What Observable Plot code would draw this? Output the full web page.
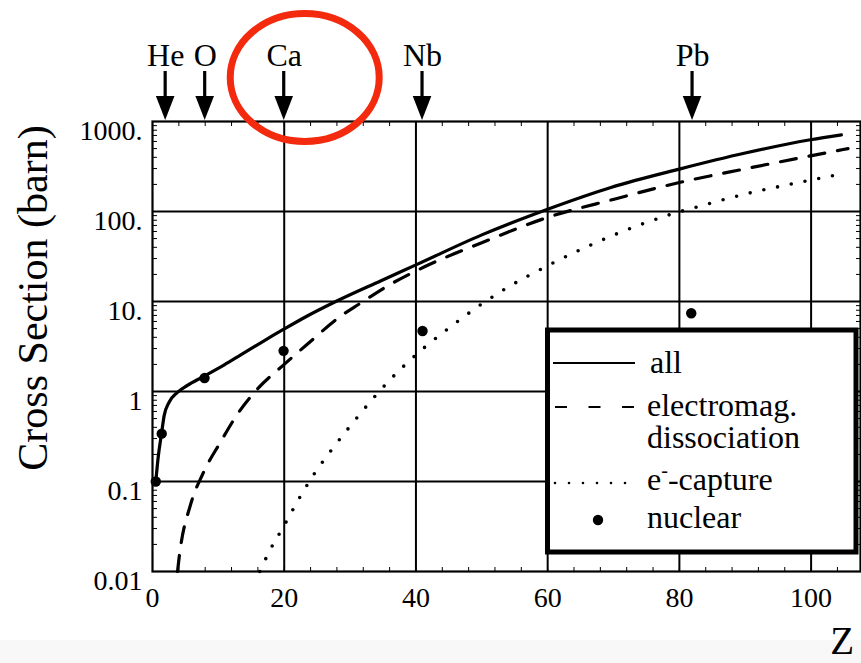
<!DOCTYPE html>
<html>
<head>
<meta charset="utf-8">
<script src="https://cdn.jsdelivr.net/npm/d3@7"></script>
<script src="https://cdn.jsdelivr.net/npm/@observablehq/plot@0.6"></script>
<style>
html, body { margin: 0; padding: 0; }
body {
  width: 861px; height: 663px; overflow: hidden;
  background: linear-gradient(to bottom, #ffffff 0px, #ffffff 640px, #f8f8f8 640px, #f8f8f8 663px);
}
#chart { width: 861px; height: 663px; }
#chart svg { display: block; }
#chart svg text { font-family: "Liberation Serif", "Times New Roman", "Tinos", "DejaVu Serif", serif; }
</style>
</head>
<body>
<div id="chart"></div>
<script>
// ---- data ----
const allZ     = [0.5, 0.86, 1.37, 1.77, 2.5, 3.8, 5.3, 7.6, 10.9, 13.4, 16.5, 20, 23.5, 27.6, 34.7, 40, 50, 60, 69.6, 80, 90, 99.9, 104.6];
const allSigma = [0.1, 0.185, 0.34, 0.54, 0.755, 0.98, 1.17, 1.45, 1.98, 2.55, 3.5, 4.95, 6.9, 9.8, 17, 25.5, 55, 106, 185, 296, 446, 627, 710];

const emZ     = [3.8, 4.05, 5.8, 7.6, 10.4, 12.9, 15.7, 20, 23.5, 28.6, 31.4, 35.7, 41.3, 50, 60, 70.1, 80, 90, 99.9, 105.6];
const emSigma = [0.01, 0.0144, 0.056, 0.12, 0.28, 0.56, 1.02, 2.0, 3.35, 6.9, 9.4, 14.9, 24.3, 45, 86, 137, 210, 298, 415, 500];

const ecZ     = [16.3, 16.7, 17.7, 20, 22, 24.5, 27.3, 30.1, 33.2, 35.9, 41, 44.6, 50.1, 53.9, 60, 66.1, 70.1, 78.7, 83, 89.8, 98.7, 105.3];
const ecSigma = [0.01, 0.0116, 0.0165, 0.0325, 0.06, 0.12, 0.23, 0.42, 0.79, 1.31, 2.96, 4.8, 9.5, 14.3, 25, 41, 55, 93, 114, 155, 214, 267];

const nucZ     = [0.5, 1.4, 7.9, 19.9, 41, 81.8];
const nucSigma = [0.1, 0.34, 1.41, 2.83, 4.7, 7.4];

const elements  = ["He", "O", "Ca", "Nb", "Pb"];
const elementZ  = [2, 8, 20, 41, 82];

const xTickValues = [0, 20, 40, 60, 80, 100];
const xTickLabels = ["0", "20", "40", "60", "80", "100"];
const yTickValues = [0.01, 0.1, 1, 10, 100, 1000];
const yTickLabels = ["0.01", "0.1", "1", "10.", "100.", "1000."];
const xMinorTicks = [0, 4, 8, 12, 16, 20, 24, 28, 32, 36, 40, 44, 48, 52, 56, 60, 64, 68, 72, 76, 80, 84, 88, 92, 96, 100, 104];
const yMinorTicks = [];
for (let e = -2; e <= 2; e++) for (let m = 1; m <= 9; m++) yMinorTicks.push(+(m * Math.pow(10, e)).toPrecision(3));
yMinorTicks.push(1000);

const legendLabels = ["all", "electromag.", "dissociation", "capture", "nuclear"];
const yLabel = "Cross Section (barn)";
const xLabel = "Z";

// ---- tables ----
const toRows = (zs, ss) => zs.map((z, i) => ({Z: z, sigma: ss[i]}));
const allData = toRows(allZ, allSigma);
const emData  = toRows(emZ, emSigma);
const ecData  = toRows(ecZ, ecSigma);
const nucData = toRows(nucZ, nucSigma);

const FONT = "Liberation Serif, Times New Roman, Tinos, DejaVu Serif, serif";

const plot = Plot.plot({
  width: 861,
  height: 663,
  marginLeft: 152,
  marginRight: 1,
  marginTop: 121,
  marginBottom: 92,
  style: {fontFamily: FONT, fontSize: "28px", background: "transparent", color: "black", overflow: "visible"},
  x: {domain: [0, 107.5], axis: "both", ticks: xMinorTicks, tickSize: -4, tickFormat: () => "", label: null},
  y: {type: "log", domain: [0.01, 1000], axis: "both", ticks: yMinorTicks, tickSize: -5, tickFormat: () => "", label: null},
  marks: [
    Plot.ruleY(yTickValues.slice(1, -1), {stroke: "black", strokeWidth: 2}),
    Plot.ruleX(xTickValues.slice(1), {stroke: "black", strokeWidth: 2}),
    Plot.line(allData, {x: "Z", y: "sigma", stroke: "black", strokeWidth: 3.2, curve: "monotone-x"}),
    Plot.line(emData, {x: "Z", y: "sigma", stroke: "black", strokeWidth: 3.2, strokeDasharray: "16,13", curve: "monotone-x"}),
    Plot.line(ecData, {x: "Z", y: "sigma", stroke: "black", strokeWidth: 3.6, strokeDasharray: "0,14", strokeLinecap: "round", curve: "monotone-x"}),
    Plot.dot(nucData, {x: "Z", y: "sigma", r: 5.2, fill: "black"}),
    Plot.frame({stroke: "black", strokeWidth: 2.2}),
    Plot.text(yTickValues, {y: d => d, text: (d, i) => yTickLabels[i], frameAnchor: "left", lineAnchor: "middle", textAnchor: "end", dx: -10, dy: 10, fontSize: 28}),
    Plot.text(xTickValues, {x: d => d, text: (d, i) => xTickLabels[i], frameAnchor: "bottom", lineAnchor: "middle", dy: 27, fontSize: 28}),
    Plot.text(elements, {x: (d, i) => elementZ[i], text: d => d, frameAnchor: "top", lineAnchor: "middle", dy: -66, fontSize: 32})
  ]
});

document.getElementById("chart").appendChild(plot);

// ---- annotations drawn with the plot's own scales ----
const svgEl = plot.tagName.toLowerCase() === "svg" ? plot : plot.querySelector("svg");
const svg = d3.select(svgEl);
const sx = plot.scale("x"), sy = plot.scale("y");
const frameTop = sy.apply(1000);
const frameBottom = sy.apply(0.01);

// arrows pointing at the element positions
const arrows = svg.append("g");
elementZ.forEach(z => {
  const cx = sx.apply(z);
  arrows.append("rect").attr("x", cx - 1.6).attr("y", frameTop - 50).attr("width", 3.2).attr("height", 28).attr("fill", "black");
  arrows.append("path").attr("d", `M${cx - 9.3},${frameTop - 25}L${cx + 9.3},${frameTop - 25}L${cx},${frameTop - 1}Z`).attr("fill", "black");
});

// axis titles
svg.append("text")
  .attr("transform", `translate(47,${(frameTop + frameBottom) / 2 - 48}) rotate(-90)`)
  .attr("text-anchor", "middle").attr("font-family", FONT).attr("font-size", 42)
  .text(yLabel);
svg.append("text")
  .attr("x", 854).attr("y", 654).attr("text-anchor", "end")
  .attr("font-family", FONT).attr("font-size", 39).text(xLabel);

// legend
const lg = svg.append("g").attr("font-family", FONT).attr("font-size", 32).attr("text-anchor", "start");
lg.append("rect").attr("x", 547.5).attr("y", 330).attr("width", 308.5).attr("height", 222)
  .attr("fill", "white").attr("stroke", "black").attr("stroke-width", 5);
lg.append("line").attr("x1", 553).attr("x2", 635).attr("y1", 363).attr("y2", 363).attr("stroke", "black").attr("stroke-width", 2);
lg.append("line").attr("x1", 555).attr("x2", 634).attr("y1", 407).attr("y2", 407).attr("stroke", "black").attr("stroke-width", 2.2).attr("stroke-dasharray", "12,21.5");
lg.append("line").attr("x1", 555).attr("x2", 626).attr("y1", 483).attr("y2", 483).attr("stroke", "black").attr("stroke-width", 2.6).attr("stroke-dasharray", "0,14").attr("stroke-linecap", "round");
lg.append("circle").attr("cx", 598).attr("cy", 520).attr("r", 5.2).attr("fill", "black");
lg.append("text").attr("x", 650).attr("y", 373).text(legendLabels[0]);
const em = lg.append("text").attr("x", 647).attr("y", 416);
em.append("tspan").attr("x", 647).text(legendLabels[1]);
em.append("tspan").attr("x", 647).attr("dy", 32).text(legendLabels[2]);
const ec = lg.append("text").attr("x", 647).attr("y", 490);
ec.append("tspan").text("e");
ec.append("tspan").attr("font-size", 20).attr("dy", -13).text("-");
ec.append("tspan").attr("dy", 13).text("-" + legendLabels[3]);
lg.append("text").attr("x", 647).attr("y", 528).text(legendLabels[4]);

// red highlight around Ca
svg.append("ellipse")
  .attr("cx", sx.apply(20) + 21).attr("cy", frameTop - 43.5)
  .attr("rx", 74.5).attr("ry", 64)
  .attr("fill", "none").attr("stroke", "#f42a0e").attr("stroke-width", 7);
</script>
</body>
</html>
